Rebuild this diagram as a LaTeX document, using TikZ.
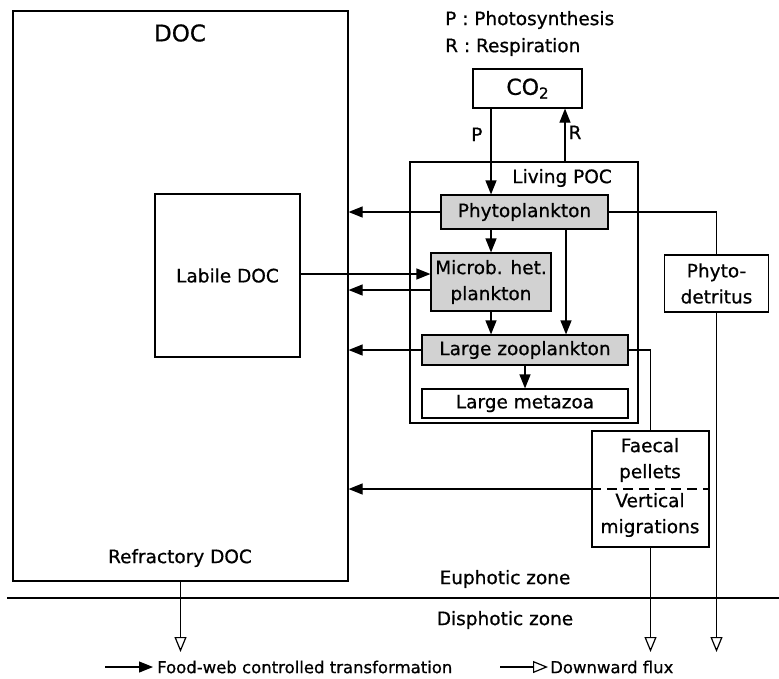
\documentclass[tikz,border=0pt]{standalone}
\usepackage{fontspec}
\setmainfont{DejaVu Sans}[BoldFont=DejaVu Sans, BoldFeatures={FakeBold=0.7}]
\usetikzlibrary{arrows.meta}
\tikzset{
  txt/.style={font=\fontsize{18.5}{26}\selectfont\bfseries, inner sep=0pt, align=center},
  box/.style={txt, draw, line width=1.2pt},
  gbox/.style={box, fill=gray!35},
  fw/.style={line width=1.2pt, -{Triangle[length=14pt,width=11pt]}},
  df/.style={line width=1.2pt, -{Triangle[open,length=15pt,width=12pt]}},
  ln/.style={line width=1.2pt},
  leg/.style={font=\fontsize{16.5}{20}\selectfont\bfseries, inner sep=0pt, anchor=west}
}
\begin{document}
\begin{tikzpicture}[x=1pt,y=-1pt]
\useasboundingbox (0,0) rectangle (779,678);
% boxes
\node[box, minimum width=335pt, minimum height=570pt] (doc) at (180.5,296) {};
\node[txt, font=\fontsize{23}{26}\selectfont\bfseries] (doct) at (180,33) {DOC};
\node[txt] (refr) at (180,558) {Refractory DOC};
\node[box, minimum width=145pt, minimum height=163pt] (labile) at (227.5,275.5) {Labile DOC};
\node[box, minimum width=109pt, minimum height=39pt, font=\fontsize{22}{26}\selectfont\bfseries] (co2) at (527.5,88.5) {CO{\fontsize{15}{15}\selectfont\raisebox{-0.45ex}{2}}};
\node[box, minimum width=228pt, minimum height=261pt] (lpoc) at (524,292.5) {};
\node[txt, anchor=east] (lpoct) at (612,178) {Living POC};
\node[gbox, minimum width=167pt, minimum height=34pt] (phyto) at (524.5,212) {Phytoplankton};
\node[gbox, minimum width=120pt, minimum height=58pt] (microb) at (491,282) {Microb. het.\\plankton};
\node[gbox, minimum width=206pt, minimum height=30pt] (lzoo) at (525,350) {Large zooplankton};
\node[box, minimum width=206pt, minimum height=29pt] (meta) at (525,403.5) {Large metazoa};
\node[box, minimum width=104pt, minimum height=57pt] (phdet) at (716.5,283.5) {Phyto-\\detritus};
\node[box, minimum width=117pt, minimum height=116pt] (faecal) at (650.5,489) {};
\node[txt] (faect) at (650,460) {Faecal\\pellets};
\node[txt] (vert) at (650,515) {Vertical\\migrations};
\draw[ln, dash pattern=on 10pt off 6pt] (faecal.west) -- (faecal.east);
% top legend
\node[txt, anchor=west] (legP) at (445,20) {P : Photosynthesis};
\node[txt, anchor=west] (legR) at (445,47) {R : Respiration};
% helper coordinates
\coordinate (xP) at (491,0);
\coordinate (xR) at (565,0);
\coordinate (xZ) at (566,0);
\coordinate (tip) at (0,652);
% P and R
\draw[fw] (co2.south -| xP) -- node[txt, left=8pt, pos=0.3] (Plab) {P} (phyto.north -| xP);
\draw[fw] (lpoc.north -| xR) -- node[txt, right=3pt, pos=0.55] (Rlab) {R} (co2.south -| xR);
% food web
\draw[fw] (phyto.west) -- (phyto.west -| doc.east);
\draw[fw] ([yshift=1.5pt]labile.east) -- ([yshift=1.5pt]labile.east -| microb.west);
\draw[fw] ([yshift=-8pt]microb.west) -- ([yshift=-8pt]microb.west -| doc.east);
\draw[fw] (lzoo.west) -- (lzoo.west -| doc.east);
\draw[fw] (phyto.south -| microb.north) -- (microb.north);
\draw[fw] (microb.south) -- (microb.south |- lzoo.north);
\draw[fw] (phyto.south -| xZ) -- (lzoo.north -| xZ);
\draw[fw] (lzoo.south) -- (meta.north);
\draw[fw] (faecal.west) -- (faecal.west -| doc.east);
% fluxes
\draw[ln] (phyto.east) -| (phdet.north);
\draw[ln] (lzoo.east) -| (faecal.north);
\draw[df] (phdet.south) -- (phdet.south |- tip);
\draw[df] (faecal.south) -- (faecal.south |- tip);
\draw[df] (doc.south) -- (doc.south |- tip);
% zones
\coordinate (zl) at (7,598);
\coordinate (zr) at (779,598);
\draw[ln] (zl) -- (zr);
\node[txt] (eup) at (505,579) {Euphotic zone};
\node[txt] (dis) at (505,620) {Disphotic zone};
% bottom legend
\coordinate (l1a) at (105,667);
\coordinate (l1b) at (153,667);
\coordinate (l2a) at (500,667);
\coordinate (l2b) at (548,667);
\draw[fw] (l1a) -- (l1b);
\node[leg] (legfw) at (157,667) {Food-web controlled transformation};
\draw[df] (l2a) -- (l2b);
\node[leg] (legdf) at (550,667) {Downward flux};
\end{tikzpicture}
\end{document}
